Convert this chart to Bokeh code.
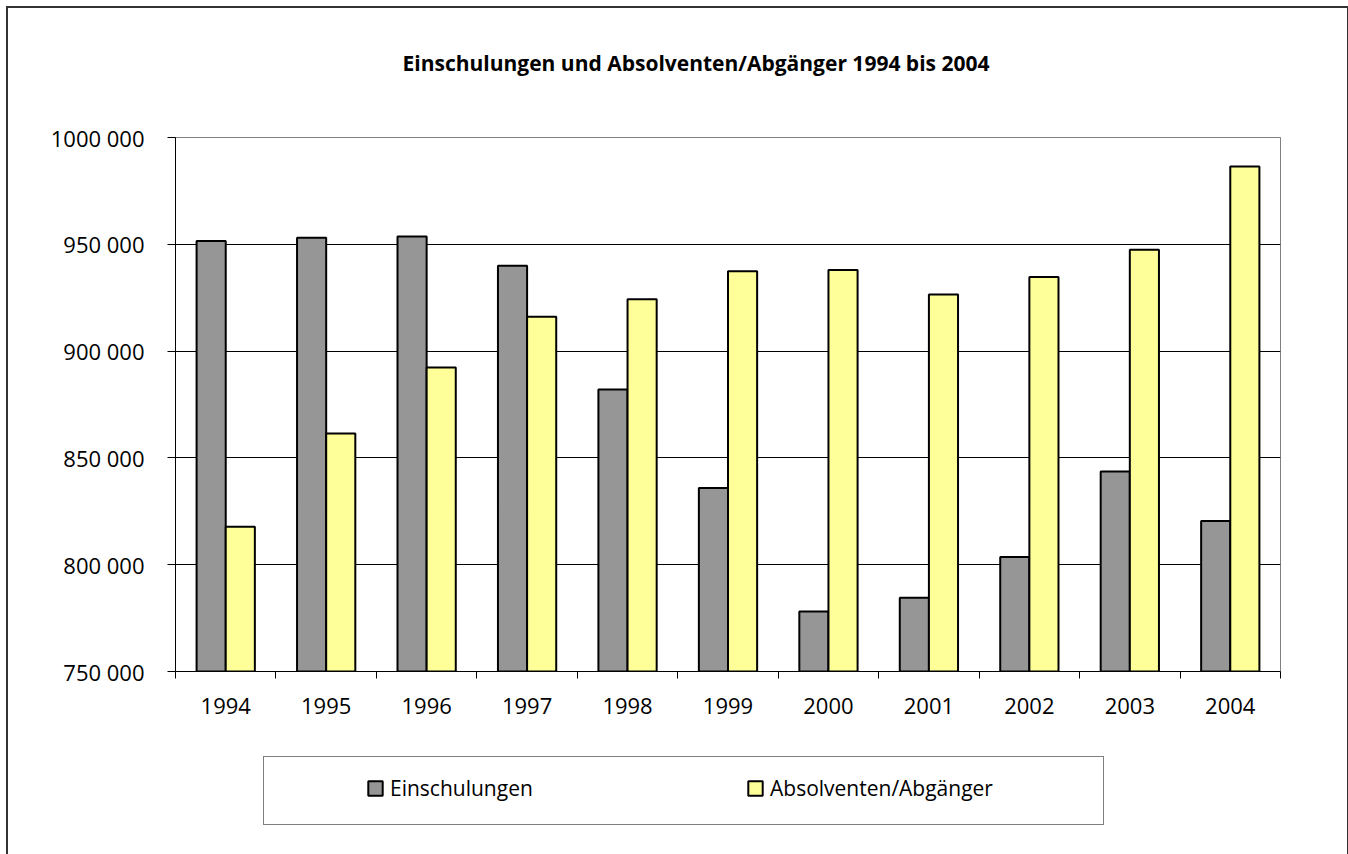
from bokeh.plotting import figure
from bokeh.layouts import column
from bokeh.models import Range1d, FixedTicker, Legend, LegendItem, ColumnDataSource, Title
from bokeh.transform import dodge
from bokeh.embed import file_html
from bokeh.resources import INLINE

# ---- data ----
years = [1994, 1995, 1996, 1997, 1998, 1999, 2000, 2001, 2002, 2003, 2004]
einschulungen = [951600, 953100, 953600, 939900, 882000, 835900, 778100, 784500, 803600, 843600, 820500]
absolventen = [817800, 861400, 892300, 916100, 924300, 937400, 938000, 926500, 934700, 947400, 986400]
y_ticks = [750000, 800000, 850000, 900000, 950000, 1000000]
y_tick_labels = ["750 000", "800 000", "850 000", "900 000", "950 000", "1000 000"]
x_tick_labels = ["1994", "1995", "1996", "1997", "1998", "1999", "2000", "2001", "2002", "2003", "2004"]
series_names = ["Einschulungen", "Absolventen/Abgänger"]
title_text = "Einschulungen und Absolventen/Abgänger 1994 bis 2004"

FONT = "Open Sans"
GREY = "#969696"
YELLOW = "#FFFF99"
W = 1339

source = ColumnDataSource(dict(year=years, ein=einschulungen, abs=absolventen))

# ---------------- main chart ----------------
p = figure(width=W, height=740,
           x_range=Range1d(years[0] - 0.5, years[-1] + 0.5),
           y_range=Range1d(y_ticks[0], y_ticks[-1]),
           output_backend="svg", toolbar_location=None,
           min_border_left=167, min_border_right=67,
           min_border_top=129, min_border_bottom=77)

# spacer title (closest to the frame) pushes the real title upwards
p.add_layout(Title(text=" ", text_font_size="1px", standoff=53), "above")
p.title = Title(text=title_text, text_font=FONT, text_font_size="21px",
                text_font_style="bold", text_color="black",
                align="left", offset=227, standoff=10)

p.outline_line_color = "#808080"
p.outline_line_width = 1
p.background_fill_color = "white"
p.border_fill_color = "white"

r1 = p.vbar(x=dodge("year", -0.145, range=p.x_range), top="ein", bottom=y_ticks[0],
            width=0.29, source=source, fill_color=GREY, line_color="black", line_width=2)
r2 = p.vbar(x=dodge("year", 0.145, range=p.x_range), top="abs", bottom=y_ticks[0],
            width=0.29, source=source, fill_color=YELLOW, line_color="black", line_width=2)

yt = FixedTicker(ticks=y_ticks, minor_ticks=[])
p.yaxis.ticker = yt
p.yaxis.major_label_overrides = {t: l for t, l in zip(y_ticks, y_tick_labels)}
p.yaxis.major_tick_out = 8
p.yaxis.major_tick_in = 0
p.yaxis.major_tick_line_color = "black"
p.yaxis.axis_line_color = "black"
p.yaxis.major_label_standoff = 23
p.yaxis.major_label_text_font = FONT
p.yaxis.major_label_text_font_size = "22px"
p.yaxis.major_label_text_color = "black"

xt = FixedTicker(ticks=years, minor_ticks=[y - 0.5 for y in years] + [years[-1] + 0.5])
p.xaxis.ticker = xt
p.xaxis.major_label_overrides = {y: l for y, l in zip(years, x_tick_labels)}
p.xaxis.major_tick_out = 0
p.xaxis.major_tick_in = 0
p.xaxis.minor_tick_out = 7
p.xaxis.minor_tick_in = 0
p.xaxis.minor_tick_line_color = "black"
p.xaxis.axis_line_color = "black"
p.xaxis.major_label_standoff = 19
p.xaxis.major_label_text_font = FONT
p.xaxis.major_label_text_font_size = "22px"
p.xaxis.major_label_text_color = "black"

p.xgrid.visible = False
p.ygrid.ticker = yt
p.ygrid.grid_line_color = "black"
p.ygrid.grid_line_width = 1

# ---------------- legend strip ----------------
pl = figure(width=W, height=106, x_range=Range1d(0, 1), y_range=Range1d(0, 1),
            output_backend="svg", toolbar_location=None,
            x_axis_location=None, y_axis_location=None, min_border=0)
pl.outline_line_color = None
pl.background_fill_color = "white"
pl.border_fill_color = "white"
pl.grid.visible = False

# hidden proxies carrying the series styles for the legend
d0 = pl.rect(x=[0.5], y=[0.5], width=0.1, height=0.1, fill_alpha=0, line_alpha=0)
d1 = pl.vbar(x=[0.5], top=[0.6], bottom=0.5, width=0.1, fill_color=GREY, line_color="black", line_width=2)
d2 = pl.vbar(x=[0.5], top=[0.6], bottom=0.5, width=0.1, fill_color=YELLOW, line_color="black", line_width=2)
for r in (d0, d1, d2):
    r.visible = False

box = Legend(items=[LegendItem(label=" ", renderers=[d0])],
             location=(88, 29), orientation="horizontal",
             padding=23, glyph_width=18, glyph_height=18, label_height=21,
             label_standoff=5, label_width=770, margin=0, spacing=0,
             border_line_color="black", border_line_width=1,
             background_fill_color="white", background_fill_alpha=1,
             label_text_font=FONT, label_text_font_size="21px")
pl.add_layout(box, "center")

leg = Legend(items=[LegendItem(label=series_names[0], renderers=[d1]),
                    LegendItem(label=series_names[1], renderers=[d2])],
             location=(168, 29), orientation="horizontal",
             padding=23, glyph_width=18, glyph_height=18, label_height=21,
             label_standoff=6, label_width=356, margin=0, spacing=0,
             border_line_alpha=0, background_fill_alpha=0,
             label_text_font=FONT, label_text_font_size="21px", label_text_color="black")
pl.add_layout(leg, "center")

layout = column(p, pl, spacing=0)
layout.styles = {"margin-left": "6px", "margin-top": "6px",
                 "border-top": "2px solid #333333",
                 "border-left": "2px solid #333333",
                 "border-right": "2px solid #333333"}

open("out.html", "w").write(file_html(layout, INLINE))
